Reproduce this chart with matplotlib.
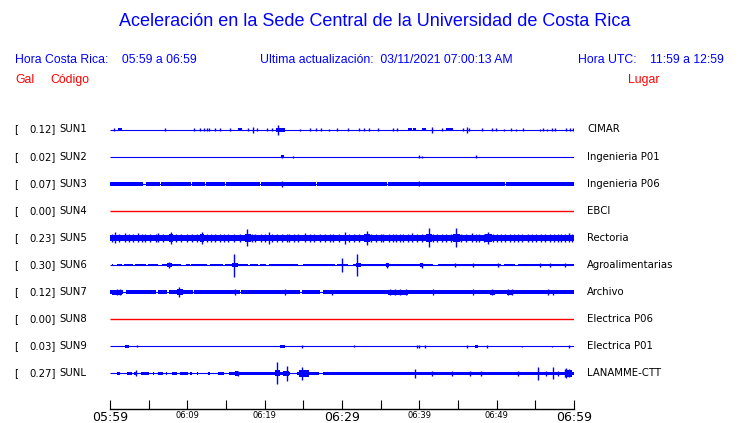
import matplotlib
matplotlib.use("Agg")
import matplotlib.pyplot as plt

# station data
codes = ["SUN1", "SUN2", "SUN3", "SUN4", "SUN5", "SUN6", "SUN7", "SUN8", "SUN9", "SUNL"]
gal = ["0.12", "0.02", "0.07", "0.00", "0.23", "0.30", "0.12", "0.00", "0.03", "0.27"]
places = ["CIMAR", "Ingenieria P01", "Ingenieria P06", "EBCI", "Rectoria",
          "Agroalimentarias", "Archivo", "Electrica P06", "Electrica P01", "LANAMME-CTT"]
trace_colors = ["blue", "blue", "blue", "red", "blue", "blue", "blue", "red", "blue", "blue"]

# minutes after 05:59
tick_minutes = list(range(0, 61, 5))
tick_labels = ["05:59", "", "06:09", "", "06:19", "", "06:29", "", "06:39", "", "06:49", "", "06:59"]
big_labels = ["05:59", "06:29", "06:59"]

# half width of the continuous band (px)
core = [0, 0, 1.9, 0, 2.9, 1.4, 2.0, 0, 0, 1.7]

# where the band drops to a thin line (start, end) in minutes
gaps = {
    "SUN3": [(4.3, 4.6), (6.5, 6.6), (10.5, 10.6), (12.3, 12.4), (14.9, 15.0),
             (19.4, 19.5), (26.6, 26.8), (35.8, 35.9), (51.1, 51.2)],
    "SUN6": [(0, 0.3), (0.43, 0.86), (1.5, 1.77), (3.0, 3.23), (4.6, 4.87), (6.25, 6.68),
             (9.18, 9.87), (10.35, 10.5), (11.2, 11.3), (12.5, 12.9), (14.6, 14.9),
             (17.8, 18.1), (19.1, 19.4), (20.2, 20.5), (24.3, 25.0), (29.1, 29.4),
             (30.8, 31.4), (41.8, 42.4), (50.6, 51.0), (52.4, 52.8)],
    "SUN7": [(1.7, 2.1), (5.9, 6.2), (7.4, 7.6), (10.7, 10.9), (16.8, 16.95),
             (24.6, 24.8), (27.2, 27.5)],
    "SUNL": [(0, 0.85), (1.3, 2.2), (2.8, 3.15), (3.45, 4.0), (5.0, 5.55), (5.65, 6.25),
             (6.9, 7.25), (7.35, 7.97), (8.6, 9.05), (10.1, 10.35), (10.65, 11.2),
             (11.4, 11.85), (11.95, 12.7), (12.95, 14.0), (14.8, 15.4), (23.3, 24.2),
             (27.0, 27.6)],
}

# thicker stretches (start, end, half width px)
blocks = {
    "SUN1": [(1.0, 1.5, 1.4), (16.6, 17.1, 1.4), (21.5, 22.6, 2.0), (38.5, 39.0, 1.4),
             (39.2, 39.6, 1.4), (40.3, 40.8, 1.2), (43.5, 44.3, 1.4)],
    "SUN2": [(22.1, 22.5, 1.5)],
    "SUN5": [(0.2, 1.5, 3.4), (5.8, 6.5, 3.4), (7.6, 8.2, 3.6), (11.6, 12.2, 3.6),
             (17.4, 18.2, 3.8), (32.9, 33.6, 3.6), (40.8, 41.6, 3.8),
             (44.4, 45.2, 3.8), (48.5, 49.4, 3.6)],
    "SUN6": [(7.4, 8.0, 2.0), (15.8, 16.6, 2.2), (31.8, 32.4, 2.0), (35.7, 36.1, 2.0),
             (40.1, 40.5, 2.0)],
    "SUN7": [(0.3, 1.5, 2.5), (8.6, 9.4, 2.8), (36.0, 38.5, 2.4), (49.2, 49.8, 2.4),
             (51.4, 52.1, 2.4)],
    "SUN9": [(2.0, 2.5, 1.5), (22.0, 22.6, 1.5), (47.2, 47.6, 1.5)],
    "SUNL": [(0.85, 1.3, 1.5), (2.2, 2.8, 1.5), (4.0, 5.0, 1.5), (6.25, 6.9, 1.5),
             (7.97, 8.6, 1.5), (9.05, 10.1, 1.5), (16.2, 16.6, 2.5), (21.3, 22.0, 3.0),
             (22.4, 23.2, 2.6), (24.5, 25.7, 3.4), (58.9, 59.7, 3.2)],
}

# spikes (minute, half amplitude px)
spikes = {
    "SUN1": [(0.5, 1.2), (7.1, 1.2), (10.9, 1.2), (11.6, 1.5), (12.2, 1.5), (12.5, 1.2),
             (12.8, 1.2), (13.6, 1.2), (14.2, 1.5), (15.5, 1.5), (17.9, 1.5), (18.45, 3.0),
             (19.0, 1.2), (20.3, 1.5), (20.9, 1.2), (21.7, 5.0), (24.6, 1.0), (25.9, 1.2),
             (26.7, 1.2), (27.3, 1.2), (28.3, 1.0), (29.3, 1.2), (30.8, 1.2), (32.2, 1.2),
             (32.9, 1.2), (33.5, 1.2), (34.7, 1.2), (36.6, 1.2), (37.1, 1.2), (41.6, 3.0),
             (42.9, 1.5), (45.7, 1.5), (46.1, 3.0), (46.4, 1.2), (48.1, 1.5), (49.4, 1.2),
             (49.9, 1.2), (50.9, 1.0), (51.9, 1.2), (52.5, 1.0), (53.4, 1.2), (55.6, 1.0),
             (56.0, 1.2), (56.5, 1.0), (57.1, 1.2), (57.5, 1.2), (59.0, 1.2), (59.5, 1.2),
             (59.9, 1.2)],
    "SUN2": [(22.3, 1.5), (23.6, 1.0), (40.0, 1.2), (40.4, 1.0), (47.3, 1.5)],
    "SUN3": [(22.2, 3.2), (39.9, 2.4)],
    "SUN5": [(0.3, 4.0), (0.65, 5.5), (1.1, 4.2), (1.94, 4.5), (2.4, 3.6), (3.0, 4.0),
             (3.66, 4.5), (4.1, 3.6), (4.5, 3.8), (5.2, 3.6), (5.9, 4.0), (6.2, 4.5),
             (6.8, 3.6), (7.9, 6.0), (8.5, 3.8), (9.2, 4.0), (9.9, 3.8), (10.6, 4.0),
             (11.2, 3.6), (11.9, 6.0), (12.5, 3.8), (13.0, 3.6), (13.6, 3.8), (14.2, 3.8),
             (14.8, 3.6), (15.3, 3.8), (16.0, 3.6), (16.8, 4.2), (17.75, 8.5), (18.3, 4.2),
             (18.8, 3.8), (19.5, 3.8), (20.1, 3.8), (20.5, 6.0), (21.0, 3.8), (21.6, 3.6),
             (22.3, 3.6), (22.9, 4.0), (23.2, 4.2), (23.8, 3.6), (24.3, 3.6), (25.2, 4.5),
             (25.8, 3.6), (26.4, 3.6), (27.1, 3.6), (27.8, 3.8), (28.4, 3.6), (28.9, 3.6),
             (29.6, 3.6), (30.4, 6.0), (30.9, 4.0), (31.5, 3.6), (32.2, 3.8), (33.2, 7.0),
             (33.8, 4.0), (34.4, 3.8), (35.0, 3.6), (35.3, 4.0), (36.1, 3.8), (36.6, 3.6),
             (37.0, 3.8), (37.5, 3.6), (37.9, 4.0), (38.5, 3.8), (39.1, 4.5), (39.7, 4.0),
             (40.4, 3.8), (41.2, 9.5), (41.8, 4.0), (42.3, 3.8), (42.9, 3.6), (43.5, 4.2),
             (44.1, 3.8), (44.8, 9.5), (45.4, 4.0), (46.0, 3.8), (46.8, 4.5), (47.3, 3.8),
             (47.7, 3.6), (48.3, 3.8), (48.9, 6.0), (49.5, 4.2), (50.0, 3.8), (50.6, 3.6),
             (51.1, 4.2), (51.7, 3.6), (52.2, 3.8), (52.8, 3.6), (53.3, 3.8), (54.0, 3.8),
             (54.6, 3.6), (55.1, 3.8), (55.7, 3.6), (56.3, 4.2), (56.9, 3.6), (57.4, 3.8),
             (57.9, 3.6), (58.3, 3.8), (58.8, 3.6), (59.3, 4.5), (59.8, 3.8)],
    "SUN6": [(7.67, 3.3), (16.08, 11.5), (30.04, 6.7), (31.98, 11.0), (35.86, 2.5),
             (40.3, 2.5), (44.6, 2.2), (47.0, 2.0), (50.2, 2.2), (55.6, 2.2), (56.9, 2.2),
             (58.8, 2.2)],
    "SUN7": [(0.9, 2.8), (1.3, 3.2), (8.92, 5.3), (16.2, 2.8), (22.6, 2.8), (28.7, 2.6),
             (36.2, 2.8), (36.8, 2.8), (37.5, 2.8), (38.3, 2.8), (41.8, 2.8), (47.0, 3.2),
             (49.4, 2.8), (51.5, 2.8), (52.0, 2.8), (56.7, 2.8), (57.3, 2.6)],
    "SUN9": [(3.45, 1.0), (24.8, 1.5), (31.5, 1.0), (39.65, 1.2), (40.0, 1.2), (40.7, 1.2),
             (46.2, 1.2), (48.8, 1.5), (53.3, 0.8), (57.1, 0.8), (59.4, 1.5)],
    "SUNL": [(3.3, 3.0), (16.5, 2.5), (21.55, 11.0), (22.9, 7.5), (24.8, 6.5), (39.5, 4.8),
             (41.6, 2.5), (44.2, 2.5), (46.5, 2.5), (48.0, 2.5), (52.8, 2.2), (55.4, 6.5),
             (56.4, 2.5), (57.3, 6.0), (57.9, 2.5), (58.8, 4.0), (59.0, 5.0), (59.3, 4.0)],
}

W, H = 740, 423
fig = plt.figure(figsize=(W / 100, H / 100), dpi=100)
fig.patch.set_facecolor("white")


def px(x, y):
    return x / W, 1 - y / H


# trace area, y axis in pixel rows
ax = fig.add_axes([110 / W, 1 - 408.5 / H, 464 / W, (408.5 - 110) / H])
ax.set_xlim(0, 60)
ax.set_ylim(408.5, 110)
ax.set_facecolor("none")
for s in ["left", "right", "top"]:
    ax.spines[s].set_visible(False)
ax.spines["bottom"].set_linewidth(1.0)
ax.set_yticks([])
ax.set_xticks(tick_minutes)
ax.set_xticklabels(tick_labels)
ax.tick_params(axis="x", direction="in", length=6.5, width=0.8, pad=1.5)
for lab in ax.get_xticklabels():
    if lab.get_text() in big_labels:
        lab.set_fontsize(9)
    else:
        lab.set_fontsize(6)

row0, pitch = 129.5, 27.1
for i, code in enumerate(codes):
    y = row0 + pitch * i
    c = trace_colors[i]
    lw = 1.0 if c == "red" else 0.8
    ax.plot([0, 60], [y, y], color=c, lw=lw, solid_capstyle="butt")
    if core[i] > 0:
        # band split by the gaps
        start = 0
        for g0, g1 in gaps.get(code, []) + [(60, 60)]:
            if g0 > start:
                ax.fill_between([start, g0], y - core[i], y + core[i], color=c, lw=0)
            start = g1
    for b0, b1, a in blocks.get(code, []):
        ax.fill_between([b0, b1], y - a, y + a, color=c, lw=0)
    sp = spikes.get(code, [])
    if sp:
        ax.vlines([t for t, a in sp], [y - a for t, a in sp], [y + a for t, a in sp],
                  color=c, lw=1.0)

    # labels
    fig.text(*px(14, y), "[", fontsize=7.3, va="center", ha="left", color="black")
    fig.text(*px(56, y), gal[i] + "]", fontsize=7.3, va="center", ha="right", color="black")
    fig.text(*px(59, y), code, fontsize=7.3, va="center", ha="left", color="black")
    fig.text(*px(587, y), places[i], fontsize=7.3, va="center", ha="left", color="black")

head = "Liberation Sans"
fig.text(*px(375, 22), "Aceleración en la Sede Central de la Universidad de Costa Rica",
         fontsize=13, family=head, color="blue", ha="center", va="center")
fig.text(*px(15, 60), "Hora Costa Rica:    05:59 a 06:59", fontsize=8.8, family=head,
         color="blue", ha="left", va="center")
fig.text(*px(260, 60), "Ultima actualización:  03/11/2021 07:00:13 AM", fontsize=8.8,
         family=head, color="blue", ha="left", va="center")
fig.text(*px(724, 60), "Hora UTC:    11:59 a 12:59", fontsize=8.8, family=head,
         color="blue", ha="right", va="center")
fig.text(*px(15, 80), "Gal", fontsize=8.8, family=head, color="red", ha="left", va="center")
fig.text(*px(50, 80), "Código", fontsize=8.8, family=head, color="red", ha="left", va="center")
fig.text(*px(628, 80), "Lugar", fontsize=8.8, family=head, color="red", ha="left", va="center")

fig.savefig("out.png", dpi=100)
